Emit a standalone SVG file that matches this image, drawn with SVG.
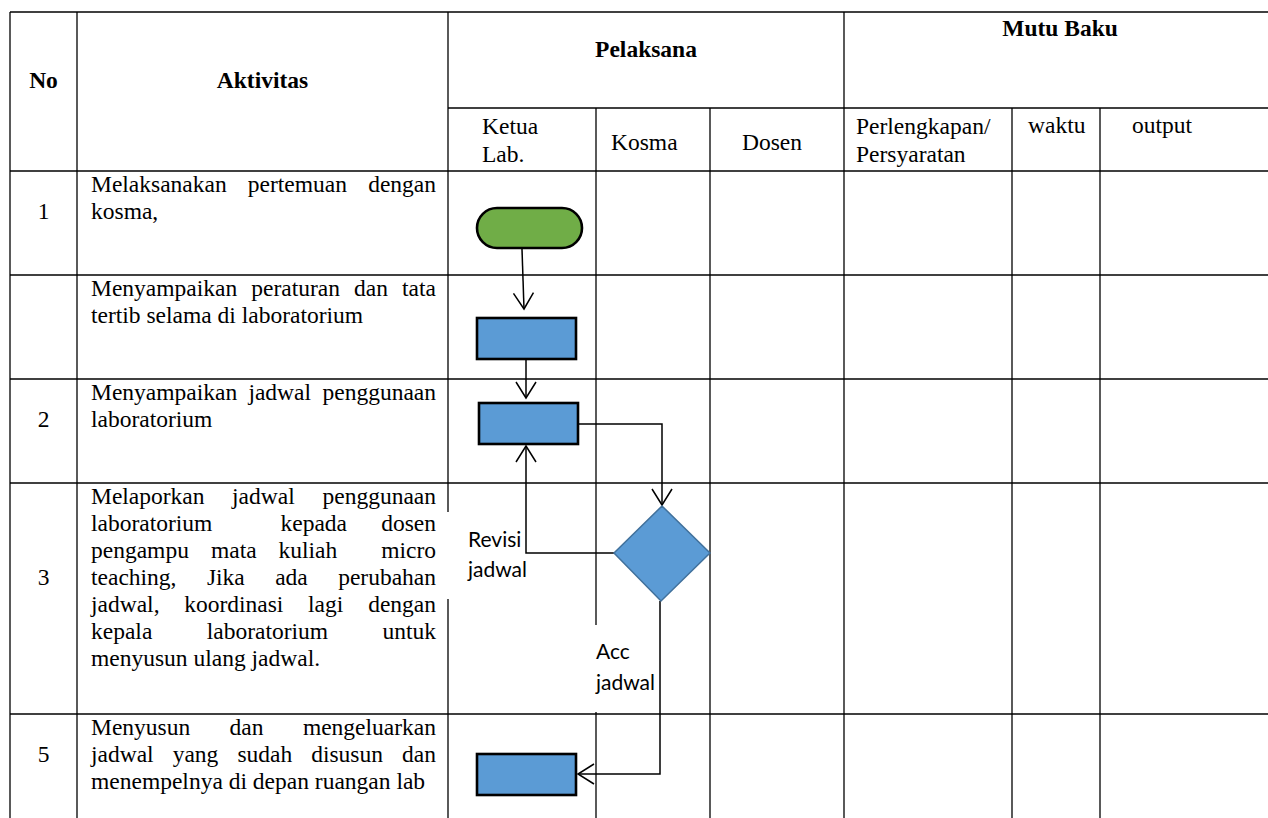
<svg xmlns="http://www.w3.org/2000/svg" width="1268" height="818" viewBox="0 0 1268 818">
<style>
  .grid line { stroke: #000; stroke-width: 1.3; }
  .t { font-family: "Liberation Serif", "Times New Roman", serif; font-size: 23.5px; fill: #000; }
  .b { font-weight: bold; }
  .m { text-anchor: middle; }
  .e { text-anchor: end; }
  .lbl { font-family: Lato, "Open Sans", "Liberation Sans", sans-serif; font-size: 21px; fill: #000; }
  .proc { fill: #5B9BD5; stroke: #000; stroke-width: 2.6; }
  .term { fill: #70AD47; stroke: #000; stroke-width: 2.6; }
  .dec { fill: #5B9BD5; stroke: #41719C; stroke-width: 1.5; }
  .conn { fill: none; stroke: #000; stroke-width: 1.5; }
</style>
<defs>
  <marker id="arr" viewBox="0 0 20 22" refX="18" refY="11" markerWidth="20" markerHeight="22" markerUnits="userSpaceOnUse" orient="auto">
    <path d="M2,1 L18,11 L2,21" fill="none" stroke="#000" stroke-width="1.5"/>
  </marker>
</defs>
<rect width="1268" height="818" fill="#fff"/>

<g id="grid" class="grid">
  <line x1="10" y1="12" x2="1268" y2="12"/>
  <line x1="448" y1="108" x2="1268" y2="108"/>
  <line x1="10" y1="171" x2="1268" y2="171"/>
  <line x1="10" y1="275" x2="1268" y2="275"/>
  <line x1="10" y1="379" x2="1268" y2="379"/>
  <line x1="10" y1="483" x2="1268" y2="483"/>
  <line x1="10" y1="714" x2="1268" y2="714"/>
  <line x1="10" y1="12" x2="10" y2="818"/>
  <line x1="77" y1="12" x2="77" y2="818"/>
  <line x1="448" y1="12" x2="448" y2="512"/>
  <line x1="448" y1="599" x2="448" y2="818"/>
  <line x1="596" y1="108" x2="596" y2="625"/>
  <line x1="596" y1="712" x2="596" y2="818"/>
  <line x1="710" y1="108" x2="710" y2="818"/>
  <line x1="844" y1="12" x2="844" y2="818"/>
  <line x1="1012" y1="108" x2="1012" y2="818"/>
  <line x1="1100" y1="108" x2="1100" y2="818"/>
</g>

<g id="header">
  <text class="t b m" x="43.5" y="88">No</text>
  <text class="t b m" x="262.5" y="88">Aktivitas</text>
  <text class="t b m" x="646" y="57">Pelaksana</text>
  <text class="t b m" x="1060" y="36">Mutu Baku</text>
  <text class="t" x="482" y="134">Ketua</text>
  <text class="t" x="482" y="162">Lab.</text>
  <text class="t" x="611" y="150">Kosma</text>
  <text class="t" x="742" y="150">Dosen</text>
  <text class="t" x="856" y="134">Perlengkapan/</text>
  <text class="t" x="856" y="162">Persyaratan</text>
  <text class="t" x="1028" y="133">waktu</text>
  <text class="t" x="1132" y="133">output</text>
</g>

<g id="rows">
  <text class="t m" x="43.5" y="219">1</text>
  <text class="t" x="91" y="192">Melaksanakan</text>
  <text class="t" x="247.8" y="192">pertemuan</text>
  <text class="t e" x="436" y="192">dengan</text>
  <text class="t" x="91" y="219">kosma,</text>

  <text class="t" x="91" y="296">Menyampaikan</text>
  <text class="t" x="251.3" y="296">peraturan</text>
  <text class="t" x="354.1" y="296">dan</text>
  <text class="t e" x="436" y="296">tata</text>
  <text class="t" x="91" y="323">tertib selama di laboratorium</text>

  <text class="t m" x="43.5" y="427">2</text>
  <text class="t" x="91" y="400">Menyampaikan</text>
  <text class="t" x="248.4" y="400">jadwal</text>
  <text class="t e" x="436" y="400">penggunaan</text>
  <text class="t" x="91" y="427">laboratorium</text>

  <text class="t m" x="43.5" y="585">3</text>
  <text class="t" x="91" y="504">Melaporkan</text>
  <text class="t" x="232.1" y="504">jadwal</text>
  <text class="t e" x="436" y="504">penggunaan</text>
  <text class="t" x="91" y="531">laboratorium</text>
  <text class="t" x="280.5" y="531">kepada</text>
  <text class="t e" x="436" y="531">dosen</text>
  <text class="t" x="91" y="558">pengampu</text>
  <text class="t" x="211" y="558">mata</text>
  <text class="t" x="278.5" y="558">kuliah</text>
  <text class="t e" x="436" y="558">micro</text>
  <text class="t" x="91" y="585">teaching,</text>
  <text class="t" x="206.9" y="585">Jika</text>
  <text class="t" x="275.2" y="585">ada</text>
  <text class="t e" x="436" y="585">perubahan</text>
  <text class="t" x="91" y="612">jadwal,</text>
  <text class="t" x="184.2" y="612">koordinasi</text>
  <text class="t" x="308.1" y="612">lagi</text>
  <text class="t e" x="436" y="612">dengan</text>
  <text class="t" x="91" y="639">kepala</text>
  <text class="t" x="206.7" y="639">laboratorium</text>
  <text class="t e" x="436" y="639">untuk</text>
  <text class="t" x="91" y="666">menyusun ulang jadwal.</text>

  <text class="t m" x="43.5" y="762">5</text>
  <text class="t" x="91" y="735">Menyusun</text>
  <text class="t" x="229.6" y="735">dan</text>
  <text class="t e" x="436" y="735">mengeluarkan</text>
  <text class="t" x="91" y="762">jadwal</text>
  <text class="t" x="172.7" y="762">yang</text>
  <text class="t" x="237.4" y="762">sudah</text>
  <text class="t" x="311.2" y="762">disusun</text>
  <text class="t e" x="436" y="762">dan</text>
  <text class="t" x="91" y="789">menempelnya di depan ruangan lab</text>
</g>

<g id="connectors">
  <line class="conn" x1="522" y1="249" x2="524" y2="309" marker-end="url(#arr)"/>
  <line class="conn" x1="526" y1="360" x2="526" y2="398" marker-end="url(#arr)"/>
  <polyline class="conn" points="578,424 662,424 662,505" marker-end="url(#arr)"/>
  <polyline class="conn" points="614,553 526,553 526,446" marker-end="url(#arr)"/>
  <polyline class="conn" points="660,601 660,774 578,774" marker-end="url(#arr)"/>
</g>

<g id="node-start"><rect class="term" x="477" y="208" width="105" height="40" rx="20"/></g>
<g id="node-rules"><rect class="proc" x="477" y="318" width="99" height="41"/></g>
<g id="node-schedule"><rect class="proc" x="479" y="403" width="99" height="41"/></g>
<g id="node-decision"><polygon class="dec" points="662,506 710,553 661,601 614,553"/></g>
<g id="node-publish"><rect class="proc" x="477" y="754" width="99" height="41"/></g>

<g id="labels">
  <text class="lbl" x="468" y="547">Revisi</text>
  <text class="lbl" x="468" y="577">jadwal</text>
  <text class="lbl" x="596" y="659">Acc</text>
  <text class="lbl" x="596" y="690">jadwal</text>
</g>
</svg>
